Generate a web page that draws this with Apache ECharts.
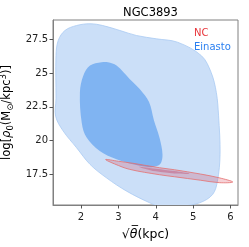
<!DOCTYPE html>
<html>
<head>
<meta charset="utf-8">
<script src="https://cdn.jsdelivr.net/npm/echarts@6/dist/echarts.min.js"></script>
<style>html,body{margin:0;padding:0;background:#fff}#c{width:249px;height:247px}</style>
</head>
<body>
<div id="c"></div>
<script>
// Einasto outer contour, [sqrt(theta), log rho0]
var einastoOuter = [
  [2.24,28.67],[2.58,28.54],[3.04,28.17],[3.48,27.8],[4.02,27.55],[4.58,27.3],
  [5.22,26.3],[5.48,25.06],[5.62,23.57],[5.68,21.83],[5.72,18.97],[5.65,16.98],
  [5.52,15.98],[5.17,15.36],[4.64,15.1],[4.10,15.1],[3.84,15.36],[3.22,16.23],
  [2.68,17.22],[2.24,18.22],[1.88,19.46],[1.52,20.71],[1.32,21.8],[1.33,23.1],
  [1.33,26.3],[1.39,27.43],[1.57,28.17],[1.88,28.54]
];
// Einasto inner contour
var einastoInner = [
  [2.55,25.81],[2.72,25.81],[2.95,25.56],[3.30,24.57],[3.57,23.82],[3.82,22.85],
  [3.95,21.5],[4.10,20.2],[4.18,18.95],[4.12,18.25],[3.92,18.03],[3.75,18.04],
  [3.39,18.22],[2.95,18.6],[2.50,19.22],[2.15,20.21],[2.02,21.3],[1.97,23.57],
  [2.06,24.81],[2.24,25.56]
];
// NC outer contour
var ncOuter = [
  [2.66,18.58],[3.0,18.45],[3.39,18.3],[4.10,17.97],[4.50,17.82],[5.20,17.5],
  [5.70,17.22],[6.06,16.91],[5.70,16.86],[5.20,17.04],[4.50,17.3],[4.10,17.45],
  [3.30,17.85],[2.90,18.25]
];
// NC inner contour
var ncInner = [
  [3.55,18.05],[4.0,17.9],[4.5,17.72],[4.9,17.53],[4.5,17.54],[4.0,17.7],[3.7,17.9]
];
var xTicks = [2,3,4,5,6];
var yTicks = [17.5,20,22.5,25,27.5];

function polySeries(name, pts, fill, stroke, lw, z) {
  return {
    type: 'custom', name: name, clip: true, z: z,
    data: pts,
    renderItem: function (params, api) {
      if (params.dataIndex !== 0) return null;
      var p = pts.map(function (d) { return api.coord(d); });
      return {
        type: 'polygon',
        shape: { points: p, smooth: 0.35 },
        style: { fill: fill, stroke: stroke, lineWidth: lw }
      };
    },
    silent: true
  };
}

var chart = echarts.init(document.getElementById('c'), null, {renderer: 'canvas'});
var font = 'DejaVu Sans';
chart.setOption({
  animation: false,
  title: {
    text: 'NGC3893', left: 145.5, textAlign: 'center', top: 2,
    textStyle: { fontFamily: font, fontSize: 11.5, fontWeight: 'normal', color: '#000' }
  },
  legend: {
    orient: 'vertical', left: 189, top: 26, padding: 0, itemWidth: 0, itemHeight: 14, itemGap: 2,
    selectedMode: false,
    textStyle: { fontFamily: font, fontSize: 10 },
    data: [
      { name: 'NC', icon: 'none', textStyle: { color: '#e8353b' } },
      { name: 'Einasto', icon: 'none', textStyle: { color: '#2a7ff0' } }
    ]
  },
  grid: { left: 53, top: 20, right: 11, bottom: 42, show: true, borderColor: '#808080', borderWidth: 1, backgroundColor: 'transparent', containLabel: false, outerBoundsMode: 'none' },
  xAxis: {
    type: 'value', min: 1.25, max: 6.2,
    splitLine: { show: false },
    axisLine: { lineStyle: { color: '#808080', width: 1 } },
    axisTick: { show: true, inside: false, length: 3.5, customValues: xTicks, lineStyle: { color: '#555' } },
    axisLabel: { customValues: xTicks, fontFamily: font, fontSize: 10, color: '#222', margin: 7 },
    name: '{r|√}{t|θ̅}(kpc)', nameLocation: 'middle', nameGap: 23,
    nameTextStyle: {
      fontFamily: font, fontSize: 12.5, color: '#000',
      rich: { r: { fontFamily: font, fontSize: 12.5 }, t: { fontFamily: font, fontSize: 12.5, fontStyle: 'italic' } }
    }
  },
  yAxis: {
    type: 'value', min: 15.2, max: 28.95,
    splitLine: { show: false },
    axisLine: { lineStyle: { color: '#808080', width: 1 } },
    axisTick: { show: true, inside: false, length: 3.5, customValues: yTicks, lineStyle: { color: '#555' } },
    axisLabel: { customValues: yTicks, fontFamily: font, fontSize: 10, color: '#222', margin: 5 },
    name: 'log[{i|ρ}{sub|0}(M{sub|⊙}/kpc{sup|3})]', nameLocation: 'middle', nameGap: 30, nameRotate: 90,
    nameTextStyle: {
      fontFamily: font, fontSize: 11.5, color: '#000',
      rich: {
        i: { fontFamily: font, fontSize: 11.5, fontStyle: 'italic' },
        sub: { fontFamily: font, fontSize: 8.5, verticalAlign: 'bottom', lineHeight: 16 },
        sup: { fontFamily: font, fontSize: 8.5, verticalAlign: 'top', lineHeight: 16 }
      }
    }
  },
  series: [
    polySeries('Einasto', einastoOuter, '#cbdff8', '#a9caf2', 0.8, 1),
    polySeries('Einasto', einastoInner, '#80b4f2', 'rgba(0,0,0,0)', 0, 2),
    polySeries('NC', ncOuter, 'rgba(215,45,70,0.22)', '#e47070', 0.8, 3),
    polySeries('NC', ncInner, 'rgba(190,30,70,0.3)', 'rgba(0,0,0,0)', 0, 4)
  ]
});
</script>
</body>
</html>
